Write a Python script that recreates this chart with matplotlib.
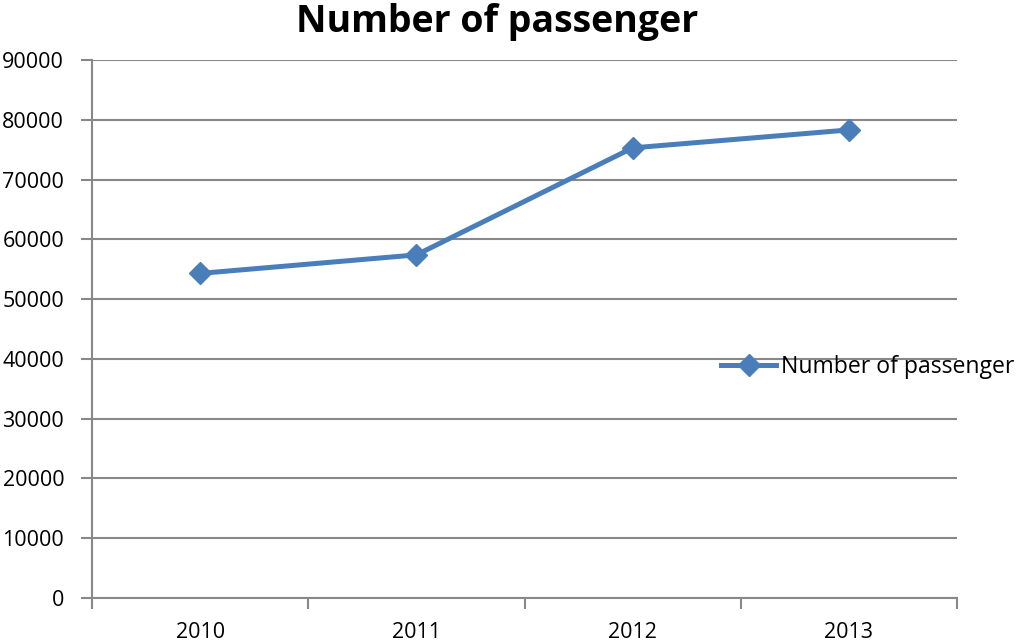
import matplotlib.pyplot as plt
import numpy as np

years = ["2010", "2011", "2012", "2013"]
passengers = [54300, 57400, 75300, 78300]
y_ticks = list(range(0, 90001, 10000))

plt.rcParams['font.family'] = ['Open Sans', 'DejaVu Sans']

fig = plt.figure(figsize=(10.16, 6.43), dpi=100)
ax = fig.add_axes([92 / 1016, 45 / 643, 865 / 1016, 538 / 643])

x = np.arange(len(years))
ax.plot(x, passengers, color='#4A7EBB', linewidth=3.6, marker='D',
        markersize=11, label='Number of passenger', zorder=3)

ax.set_xlim(-0.5, len(years) - 0.5)
ax.set_ylim(0, 90000)
ax.set_yticks(y_ticks)
ax.set_yticklabels([str(v) for v in y_ticks], fontsize=15.5)
ax.set_xticks(x)
ax.set_xticklabels(years, fontsize=15.5)
ax.set_xticks(np.arange(len(years) + 1) - 0.5, minor=True)

grid_color = '#888888'
ax.grid(axis='y', color=grid_color, linewidth=1.5)
ax.set_axisbelow(True)
for side in ['top', 'right']:
    ax.spines[side].set_visible(False)
for side in ['left', 'bottom']:
    ax.spines[side].set_color(grid_color)
    ax.spines[side].set_linewidth(1.5)

ax.tick_params(axis='y', length=8, width=1.5, color=grid_color, pad=12)
ax.tick_params(axis='x', which='major', length=0, pad=17)
ax.tick_params(axis='x', which='minor', length=8, width=1.5, color=grid_color)

fig.text(497 / 1016, 0.995, 'Number of passenger', fontsize=27,
         fontweight='bold', ha='center', va='top')

ax.legend(loc='center left', bbox_to_anchor=(721 / 1016, 1 - 367 / 643),
          bbox_transform=fig.transFigure, frameon=False, fontsize=16.6,
          handlelength=2.4, handletextpad=0.2, borderpad=0, borderaxespad=0)

fig.savefig('out.png', dpi=100)
